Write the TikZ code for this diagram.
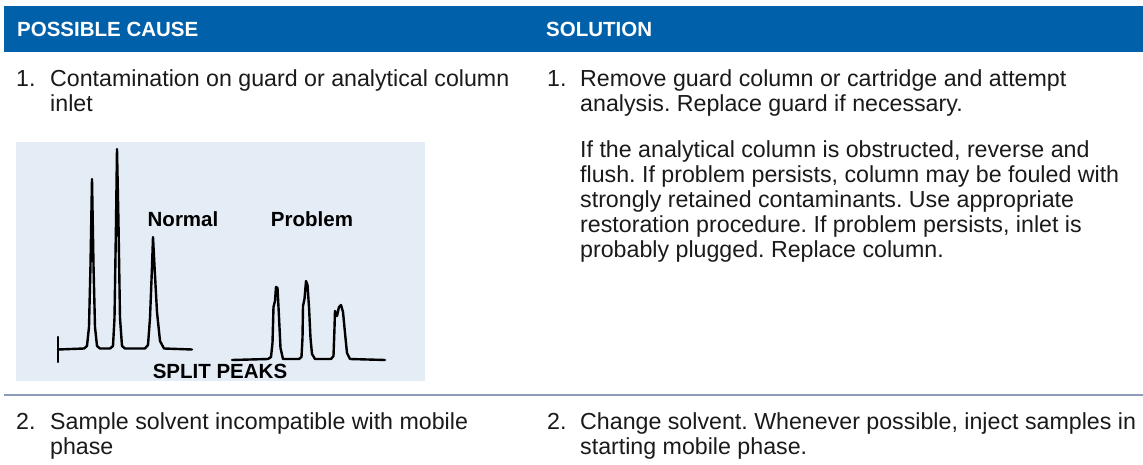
\documentclass[tikz,border=0pt]{standalone}
\usepackage{fontspec}
\setmainfont{Liberation Sans}
\frenchspacing
\definecolor{hdrblue}{HTML}{0061AA}
\definecolor{panelblue}{HTML}{E4ECF6}
\definecolor{sepgray}{HTML}{8D9BB9}
\definecolor{bodytext}{HTML}{1A1A1A}
\begin{document}
\begin{tikzpicture}[x=1pt,y=-1pt,
  bodyfont/.style={font=\fontsize{23.2}{25}\selectfont},
  para/.style={bodyfont,anchor=north west,inner sep=0pt,align=left,text=bodytext},
  hdr/.style={font=\fontsize{20.5}{22}\selectfont\bfseries,text=white,anchor=base west,inner sep=0pt},
  chartlbl/.style={font=\fontsize{20.5}{22}\selectfont\bfseries,inner sep=0pt},
  trace/.style={line width=2.4pt,line join=round,line cap=round,black}]
\useasboundingbox (0,0) rectangle (1143,465);
\fill[white] (0,0) rectangle (1143,465);
% header
\fill[hdrblue] (4,6) rectangle (1143,52);
\node[hdr] (hcause) at (17,37) {POSSIBLE CAUSE};
\node[hdr] (hsol) at (546,37) {SOLUTION};
% row 1 (strut height = 17.5)
\node[para] (n1a) at (16,68.5) {\strut 1.};
\node[para] (c1) at (50,68.5) {\strut Contamination on guard or analytical column\\inlet};
\node[para] (n1b) at (547,68.5) {\strut 1.};
\node[para] (s1) at (580,68.5) {\strut Remove guard column or cartridge and attempt\\analysis. Replace guard if necessary.};
\node[para] (s1b) at (580,139.5) {\strut If the analytical column is obstructed, reverse and\\flush. If problem persists, column may be fouled with\\strongly retained contaminants. Use appropriate\\restoration procedure. If problem persists, inlet is\\probably plugged. Replace column.};
% chart panel
\fill[panelblue] (16,142.5) rectangle (425,381);
% normal trace
\draw[trace] (58,337) -- (58,362);
\draw[trace] (58,349.5) -- (84,348.5) -- (87,346) -- (89,327) -- (90.5,265) -- (92,179) -- (93.5,265) -- (95,327) -- (97,346) -- (100,348.5)
  -- (110,348.5) -- (113,346) -- (114.5,318) -- (116,224) -- (117,149) -- (118.5,224) -- (120,318) -- (122,346) -- (125,348.5)
  -- (145,348.5) -- (148,345) -- (150,318) -- (152,267) -- (153,237) -- (154.5,266) -- (157,312) -- (160,341) -- (164,348.5) -- (192,349.5);
% problem trace
\draw[trace] (232,360) -- (268,359) -- (271,357) -- (272.5,343) -- (273.5,307) -- (275,301) -- (276,287) -- (277.5,288) -- (279,317) -- (280.5,348) -- (283,359)
  -- (299,359) -- (301.5,357) -- (302.5,338) -- (303,306) -- (304.5,299) -- (306,281) -- (307.5,285) -- (309,307) -- (310.5,338) -- (312,354) -- (315,359)
  -- (331,359) -- (333.5,356) -- (334.5,328) -- (335,311) -- (337,316) -- (339,307) -- (341,305) -- (343,312) -- (345,333) -- (347,353) -- (350,359) -- (385,360);
\node[chartlbl] (lnormal) at (183,219) {Normal};
\node[chartlbl] (lproblem) at (312,219) {Problem};
\node[chartlbl] (lsplit) at (220,371.5) {SPLIT PEAKS};
% separator
\draw[sepgray,line width=1.5pt] (4,395) -- (1143,395);
% row 2
\node[para] (n2a) at (16,411.5) {\strut 2.};
\node[para] (c2) at (50,411.5) {\strut Sample solvent incompatible with mobile\\phase};
\node[para] (n2b) at (547,411.5) {\strut 2.};
\node[para] (s2) at (580,411.5) {\strut Change solvent. Whenever possible, inject samples in\\starting mobile phase.};
\end{tikzpicture}
\end{document}
